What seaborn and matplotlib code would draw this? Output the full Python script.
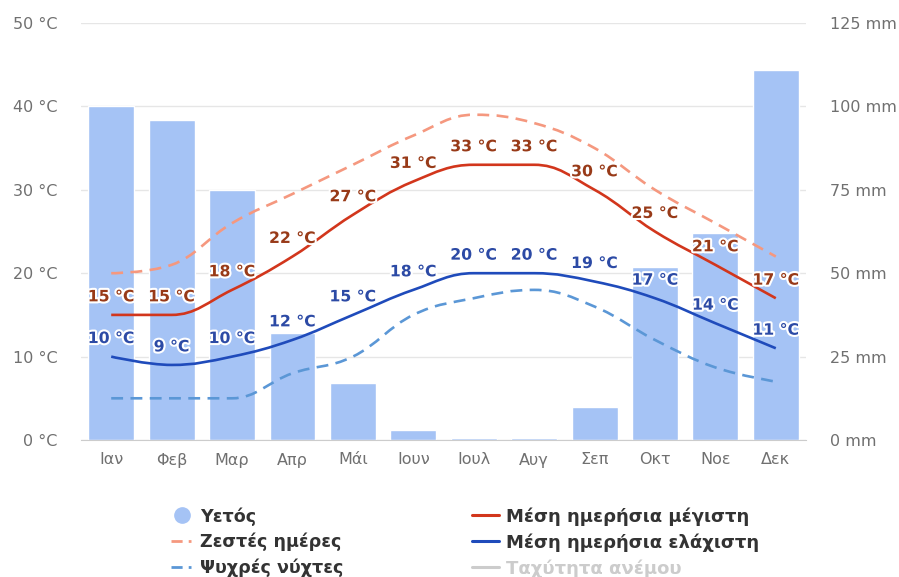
import numpy as np
import pandas as pd
import seaborn as sns
import matplotlib.pyplot as plt
import matplotlib.patheffects as pe
from matplotlib.path import Path
from matplotlib.patches import PathPatch
from matplotlib.lines import Line2D

# Δεδομένα
months = ["Ιαν", "Φεβ", "Μαρ", "Απρ", "Μάι", "Ιουν", "Ιουλ", "Αυγ", "Σεπ", "Οκτ", "Νοε", "Δεκ"]
rain_mm = [100, 96, 75, 32, 17, 3, 0.7, 0.7, 10, 52, 62, 111]
t_max = [15, 15, 18, 22, 27, 31, 33, 33, 30, 25, 21, 17]
t_min = [10, 9, 10, 12, 15, 18, 20, 20, 19, 17, 14, 11]
hot_days = [20, 21, 26, 29.5, 33, 36.5, 39, 38, 35, 30, 26, 22]
cold_nights = [5, 5, 5, 8, 10, 15, 17, 18, 16, 12, 8.7, 7]

c_bar = "#a5c3f5"
c_max = "#d2361c"
c_min = "#1f4bbb"
c_hot = "#f5987f"
c_cold = "#5b97d6"
c_lab_max = "#983a18"
c_lab_min = "#2c4aa5"
c_tick = "#707070"

sns.set_style("white")
plt.rcParams["font.family"] = ["DejaVu Sans"]


def spline_path(vals, sm=1.5):
    # καμπύλη τύπου highcharts spline, μόνο για τη σχεδίαση
    x = np.arange(len(vals), dtype=float)
    y = np.asarray(vals, dtype=float)
    n = len(y)
    lc = [(x[i], y[i]) for i in range(n)]
    rc = [(x[i], y[i]) for i in range(n)]
    d = sm + 1
    for i in range(1, n - 1):
        x0, y0, x1, y1, x2, y2 = x[i - 1], y[i - 1], x[i], y[i], x[i + 1], y[i + 1]
        lcx = (sm * x1 + x0) / d
        lcy = (sm * y1 + y0) / d
        rcx = (sm * x1 + x2) / d
        rcy = (sm * y1 + y2) / d
        corr = ((rcy - lcy) * (rcx - x1)) / (rcx - lcx) + y1 - rcy
        lcy += corr
        rcy += corr
        if lcy > y0 and lcy > y1:
            lcy = max(y0, y1); rcy = 2 * y1 - lcy
        elif lcy < y0 and lcy < y1:
            lcy = min(y0, y1); rcy = 2 * y1 - lcy
        if rcy > y2 and rcy > y1:
            rcy = max(y2, y1); lcy = 2 * y1 - rcy
        elif rcy < y2 and rcy < y1:
            rcy = min(y2, y1); lcy = 2 * y1 - rcy
        lc[i] = (lcx, lcy)
        rc[i] = (rcx, rcy)
    verts = [(x[0], y[0])]
    codes = [Path.MOVETO]
    for i in range(1, n):
        verts += [rc[i - 1], lc[i], (x[i], y[i])]
        codes += [Path.CURVE4] * 3
    return Path(verts, codes)


fig = plt.figure(figsize=(8.99, 5.77), dpi=100)
ax = fig.add_axes([81 / 899, 137 / 577, 725 / 899, 417 / 577])

df = pd.DataFrame({"month": months, "rain": rain_mm})
sns.barplot(data=df, x="month", y="rain", color=c_bar, saturation=1, width=0.76, ax=ax, zorder=2)
ax.set_ylim(0, 125)
ax.set_yticks(np.arange(0, 126, 25))
ax.set_yticklabels([f"{v} mm" for v in range(0, 126, 25)])
ax.set_xlabel("")
ax.set_ylabel("")
ax.grid(axis="y", color="#e6e6e6", lw=1, zorder=0)
ax.set_axisbelow(True)
for s in ["top", "left", "right"]:
    ax.spines[s].set_visible(False)
ax.spines["bottom"].set_color("#cccccc")

ax2 = ax.twinx()
ax2.set_ylim(0, 50)
ax2.set_yticks(np.arange(0, 51, 10))
ax2.set_yticklabels([f"{v} °C" for v in range(0, 51, 10)])
for s in ax2.spines.values():
    s.set_visible(False)

# θέση αξόνων μετά το twinx
ax.yaxis.tick_right()
ax.yaxis.set_label_position("right")
ax2.yaxis.tick_left()
ax.tick_params(axis="both", length=0, colors=c_tick, labelsize=11.5)
ax.tick_params(axis="y", pad=17)
ax.tick_params(axis="x", pad=9)
ax2.tick_params(axis="y", length=0, colors=c_tick, labelsize=11.5, pad=17)

for vals, col, ls in [(hot_days, c_hot, (0, (4.5, 2.8))), (cold_nights, c_cold, (0, (4.5, 2.8))),
                      (t_max, c_max, "-"), (t_min, c_min, "-")]:
    ax2.add_patch(PathPatch(spline_path(vals), fill=False, edgecolor=col, lw=1.9,
                            linestyle=ls, capstyle="butt", zorder=3))

for vals, col in [(t_max, c_lab_max), (t_min, c_lab_min)]:
    for i, v in enumerate(vals):
        ax2.annotate(f"{v} °C", (i, v), xytext=(0, 13), textcoords="offset points",
                     ha="center", va="center", fontsize=11.3, fontweight="bold", color=col,
                     zorder=5, path_effects=[pe.withStroke(linewidth=3, foreground="white")])

# Υπόμνημα
h_left = [
    Line2D([], [], ls="none", marker="o", markersize=11, color=c_bar),
    Line2D([], [], color=c_hot, lw=2, ls=(0, (4, 2.2, 1, 10))),
    Line2D([], [], color=c_cold, lw=2, ls=(0, (4, 2.2, 1, 10))),
]
l_left = ["Υετός", "Ζεστές ημέρες", "Ψυχρές νύχτες"]
h_right = [
    Line2D([], [], color=c_max, lw=2.2),
    Line2D([], [], color=c_min, lw=2.2),
    Line2D([], [], color="#cccccc", lw=2.2),
]
l_right = ["Μέση ημερήσια μέγιστη", "Μέση ημερήσια ελάχιστη", "Ταχύτητα ανέμου"]

kw = dict(loc="upper left", frameon=False, borderpad=0, borderaxespad=0,
          labelspacing=0.42, labelcolor="#333333")
fig.legend(h_left, l_left, bbox_to_anchor=(171 / 899, 1 - 507 / 577),
           prop={"size": 12.6, "weight": "bold"}, handlelength=1.25, handletextpad=0.4, **kw)
leg_r = fig.legend(h_right, l_right, bbox_to_anchor=(472 / 899, 1 - 507 / 577),
                   prop={"size": 13, "weight": "bold"}, handlelength=1.5, handletextpad=0.4, **kw)
leg_r.get_texts()[2].set_color("#cccccc")

fig.savefig("out.png", dpi=100)
